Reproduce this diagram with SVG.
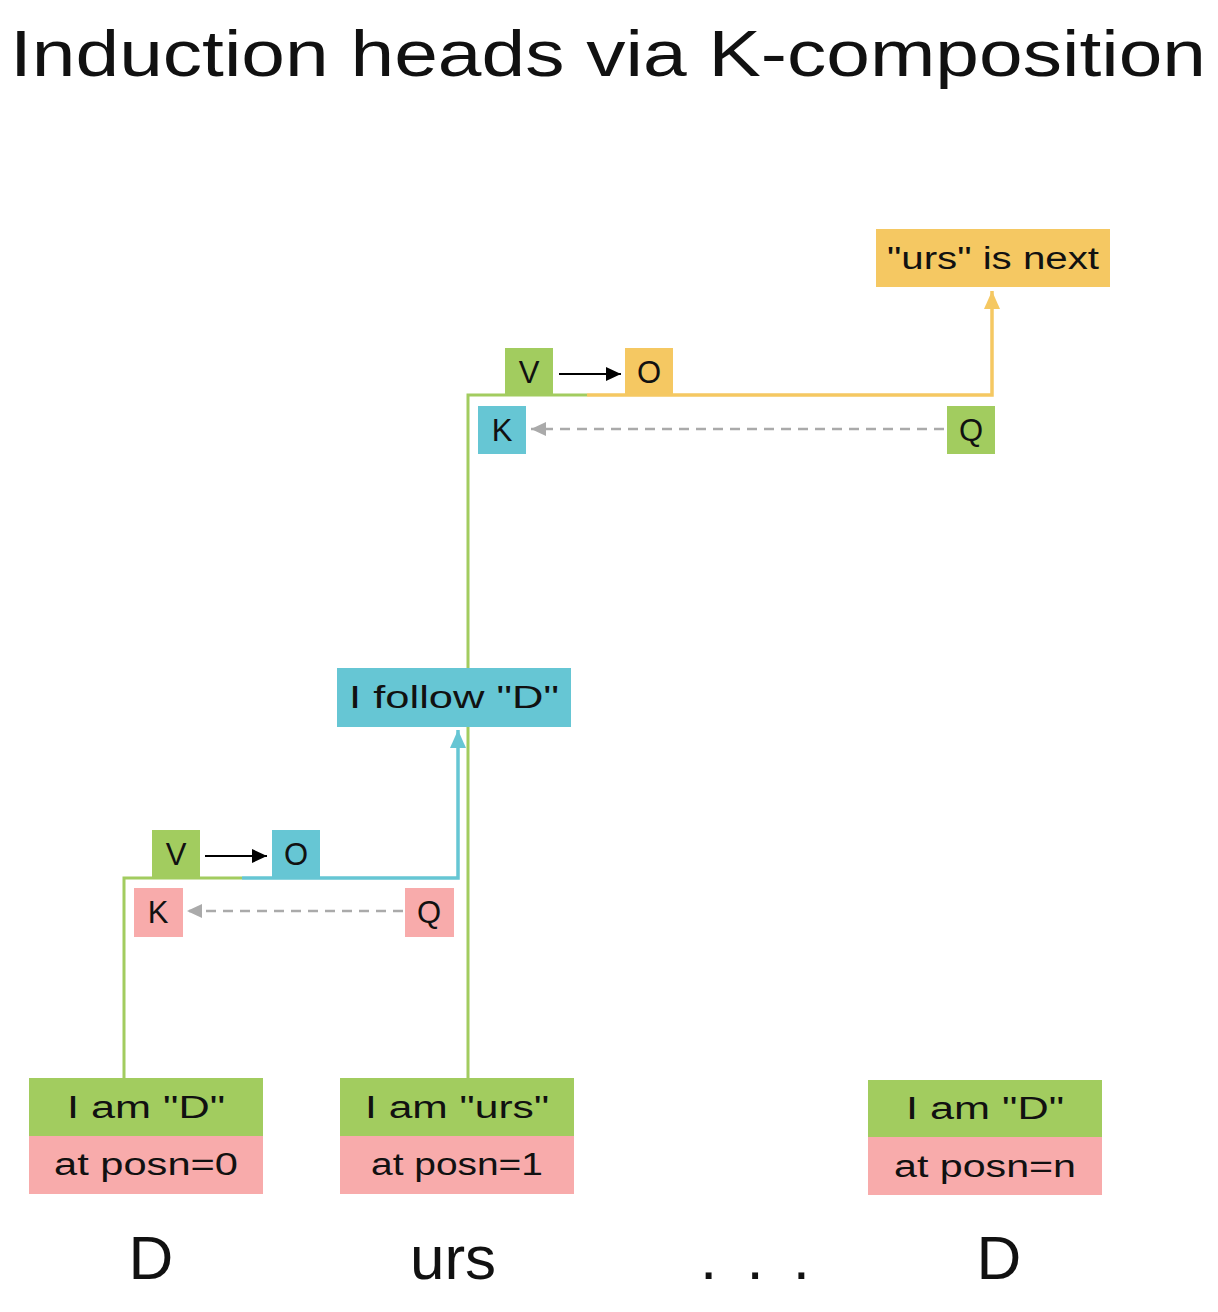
<svg xmlns="http://www.w3.org/2000/svg" width="1218" height="1312" viewBox="0 0 1218 1312">
<style>
text{font-family:"Liberation Sans","DejaVu Sans",sans-serif;fill:#111;}
.g{fill:#a2cc5f;}
.p{fill:#f8abab;}
.b{fill:#66c6d4;}
.y{fill:#f5c862;}
.lbl{font-size:31px;text-anchor:middle;dominant-baseline:central;}
.big{font-size:62px;text-anchor:middle;}
.ln{fill:none;stroke-width:3;stroke-linejoin:miter;}
.lg{stroke:#a2cc5f;}
.lb{stroke:#66c6d4;stroke-width:3.5;}
.ly{stroke:#f5c862;stroke-width:3.5;}
.blk{stroke:#000;stroke-width:2;}
.dash{stroke:#aaaaaa;stroke-width:2.5;stroke-dasharray:10 7;}
</style>
<defs>
<marker id="mk-black" markerUnits="userSpaceOnUse" markerWidth="15" markerHeight="14" refX="15" refY="7" orient="auto"><path d="M0,0 L15,7 L0,14 Z" fill="#000"/></marker>
<marker id="mk-gray" markerUnits="userSpaceOnUse" markerWidth="15" markerHeight="16" refX="15" refY="8" orient="auto"><path d="M0,1 L15,8 L0,15 Z" fill="#aaaaaa"/></marker>
<marker id="mk-blue" markerUnits="userSpaceOnUse" markerWidth="19" markerHeight="18" refX="18" refY="9" orient="auto"><path d="M0,1 L18,9 L0,17 Z" fill="#66c6d4"/></marker>
<marker id="mk-yellow" markerUnits="userSpaceOnUse" markerWidth="19" markerHeight="18" refX="18" refY="9" orient="auto"><path d="M0,1 L18,9 L0,17 Z" fill="#f5c862"/></marker>
</defs>
<rect width="1218" height="1312" fill="#fff"/>
<text id="title" x="10" y="76" font-size="64" textLength="1196" lengthAdjust="spacingAndGlyphs">Induction heads via K-composition</text>

<g id="connectors">
<path class="ln lg" d="M124,1078 V878 H242"/>
<path class="ln lb" d="M242,878 H458 V730" marker-end="url(#mk-blue)"/>
<path class="ln lg" d="M468,1078 V395 H587"/>
<path class="ln ly" d="M587,395 H992 V291" marker-end="url(#mk-yellow)"/>
<line class="blk" x1="559" y1="374" x2="621" y2="374" marker-end="url(#mk-black)"/>
<line class="blk" x1="205" y1="856" x2="267" y2="856" marker-end="url(#mk-black)"/>
<line class="dash" x1="944" y1="429" x2="531" y2="429" marker-end="url(#mk-gray)"/>
<line class="dash" x1="403" y1="911" x2="187" y2="911" marker-end="url(#mk-gray)"/>
</g>

<g id="node-next"><rect class="y" x="876" y="229" width="234" height="58"/><text class="lbl" x="993" y="258" textLength="212" lengthAdjust="spacingAndGlyphs">"urs" is next</text></g>
<g id="node-v2"><rect class="g" x="505" y="348" width="48" height="48"/><text class="lbl" x="529" y="372">V</text></g>
<g id="node-o2"><rect class="y" x="625" y="348" width="48" height="48"/><text class="lbl" x="649" y="372">O</text></g>
<g id="node-k2"><rect class="b" x="478" y="406" width="48" height="48"/><text class="lbl" x="502" y="430">K</text></g>
<g id="node-q2"><rect class="g" x="947" y="406" width="48" height="48"/><text class="lbl" x="971" y="430">Q</text></g>

<g id="node-follow"><rect class="b" x="337" y="668" width="234" height="59"/><text class="lbl" x="454" y="697" textLength="210" lengthAdjust="spacingAndGlyphs">I follow "D"</text></g>
<g id="node-v1"><rect class="g" x="152" y="830" width="48" height="48"/><text class="lbl" x="176" y="854">V</text></g>
<g id="node-o1"><rect class="b" x="272" y="830" width="48" height="48"/><text class="lbl" x="296" y="854">O</text></g>
<g id="node-k1"><rect class="p" x="134" y="888" width="49" height="49"/><text class="lbl" x="158" y="912">K</text></g>
<g id="node-q1"><rect class="p" x="405" y="888" width="49" height="49"/><text class="lbl" x="429" y="912">Q</text></g>

<g id="node-tok0"><rect class="g" x="29" y="1078" width="234" height="58"/><rect class="p" x="29" y="1136" width="234" height="58"/>
<text class="lbl" x="146" y="1107" textLength="158" lengthAdjust="spacingAndGlyphs">I am "D"</text>
<text class="lbl" x="146" y="1164" textLength="184" lengthAdjust="spacingAndGlyphs">at posn=0</text></g>
<g id="node-tok1"><rect class="g" x="340" y="1078" width="234" height="58"/><rect class="p" x="340" y="1136" width="234" height="58"/>
<text class="lbl" x="457" y="1107" textLength="184" lengthAdjust="spacingAndGlyphs">I am "urs"</text>
<text class="lbl" x="457" y="1164" textLength="172" lengthAdjust="spacingAndGlyphs">at posn=1</text></g>
<g id="node-tokn"><rect class="g" x="868" y="1080" width="234" height="57"/><rect class="p" x="868" y="1137" width="234" height="58"/>
<text class="lbl" x="985" y="1108" textLength="158" lengthAdjust="spacingAndGlyphs">I am "D"</text>
<text class="lbl" x="985" y="1166" textLength="182" lengthAdjust="spacingAndGlyphs">at posn=n</text></g>

<g id="tokens">
<text class="big" x="151" y="1279">D</text>
<text class="big" x="453" y="1279">urs</text>
<text class="big" x="755" y="1279" textLength="110" lengthAdjust="spacing">...</text>
<text class="big" x="999" y="1279">D</text>
</g>
</svg>
